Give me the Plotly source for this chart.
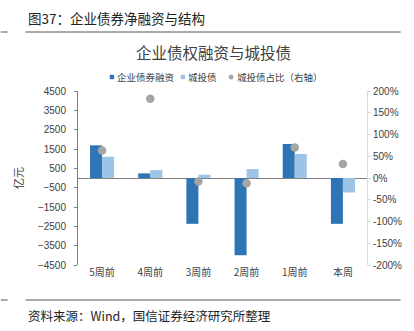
import plotly.graph_objects as go

categories = ["5周前", "4周前", "3周前", "2周前", "1周前", "本周"]
corp_bond = [1690, 240, -2370, -3990, 1760, -2370]
chengtou = [1100, 410, 170, 460, 1240, -750]
ratio_pct = [63, 182, -8, -12, 70, 32]

series_names = ["企业债券融资", "城投债", "城投债占比（右轴）"]
series_colors = ["#2e75b6", "#9dc3e6", "#a5a5a5"]

left_ticks = [-4500, -3500, -2500, -1500, -500, 500, 1500, 2500, 3500, 4500]
right_ticks = [-200, -150, -100, -50, 0, 50, 100, 150, 200]
right_labels = [f"{v}%" for v in right_ticks]

CJK = "Noto Sans CJK SC"
W, H = 414, 331
L, R, T, B = 78, 44, 91, 66
pw, ph = W - L - R, H - T - B

def px(x):
    return (x - L) / pw

def py(y):
    return (H - B - y) / ph

fig = go.Figure()
fig.add_trace(go.Bar(x=categories, y=corp_bond, name=series_names[0],
                     marker=dict(color=series_colors[0], line=dict(width=0)), yaxis="y"))
fig.add_trace(go.Bar(x=categories, y=chengtou, name=series_names[1],
                     marker=dict(color=series_colors[1], line=dict(width=0)), yaxis="y"))
fig.add_trace(go.Scatter(x=categories, y=ratio_pct, name=series_names[2], mode="markers",
                         marker=dict(color=series_colors[2], size=8.5, line=dict(width=0)), yaxis="y2"))

fig.update_layout(
    width=W, height=H,
    margin=dict(l=L, r=R, t=T, b=B),
    paper_bgcolor="white", plot_bgcolor="white",
    barmode="group", bargap=0.5, bargroupgap=0,
    font=dict(family=CJK, size=10, color="#404040"),
    showlegend=False,
    xaxis=dict(showgrid=False, showline=False, ticks="", zeroline=False,
               tickfont=dict(family=CJK, size=10, color="#404040")),
    yaxis=dict(range=[-4500, 4500], tickvals=left_ticks, showgrid=False,
               showline=True, linecolor="#7f7f7f", linewidth=1,
               ticks="outside", ticklen=3, tickcolor="#7f7f7f", ticklabelstandoff=6,
               zeroline=True, zerolinecolor="#7f7f7f", zerolinewidth=1.3,
               tickfont=dict(family="Liberation Sans", size=10, color="#404040"),
               title=dict(text="亿元", font=dict(family=CJK, size=11, color="#404040"), standoff=12)),
    yaxis2=dict(range=[-200, 200], tickvals=right_ticks, ticktext=right_labels,
                overlaying="y", side="right", showgrid=False, zeroline=False,
                showline=True, linecolor="#d9d9d9", linewidth=1,
                ticks="outside", ticklen=3, tickcolor="#d9d9d9",
                tickfont=dict(family="Liberation Sans", size=10, color="#404040")),
)

annotations = [
    dict(text="图37：企业债券净融资与结构", x=px(25), y=py(18), xanchor="left", yanchor="middle",
         font=dict(family=CJK, size=13.5, color="#222222")),
    dict(text="企业债权融资与城投债", x=px(215), y=py(52), xanchor="center", yanchor="middle",
         font=dict(family=CJK, size=15.5, color="#404040")),
    dict(text="资料来源：Wind，国信证券经济研究所整理", x=px(25), y=py(315), xanchor="left", yanchor="middle",
         font=dict(family=CJK, size=12.5, color="#222222")),
]
# legend (drawn as text + swatches)
leg_y = 77
leg_sym_x = [112.3, 184, 232.7]
leg_txt_x = [115, 187, 236.5]
for name, tx in zip(series_names, leg_txt_x):
    annotations.append(dict(text=name, x=px(tx), y=py(leg_y), xanchor="left", yanchor="middle",
                            font=dict(family=CJK, size=9.5, color="#404040"), xshift=0))
for a in annotations:
    a.update(xref="paper", yref="paper", showarrow=False)
fig.update_layout(annotations=annotations)

shapes = []
for yy in (32, 300):
    shapes.append(dict(type="line", xref="paper", yref="paper", x0=px(25), x1=px(404), y0=py(yy), y1=py(yy),
                       line=dict(color="#555555", width=1)))
    shapes.append(dict(type="line", xref="paper", yref="paper", x0=px(0), x1=px(7), y0=py(yy), y1=py(yy),
                       line=dict(color="#555555", width=1)))
for i, (sx, col) in enumerate(zip(leg_sym_x, series_colors)):
    s = 2.2 if i < 2 else 2.5
    shapes.append(dict(type="rect" if i < 2 else "circle", xref="paper", yref="paper",
                       x0=px(sx - s), x1=px(sx + s), y0=py(leg_y + s), y1=py(leg_y - s),
                       fillcolor=col, line=dict(width=0)))
fig.update_layout(shapes=shapes)

fig.write_html("out.html")
